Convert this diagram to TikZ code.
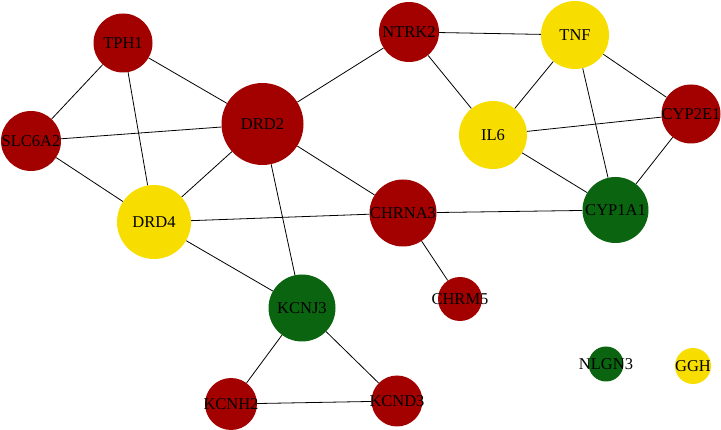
\documentclass[tikz,border=0pt]{standalone}
\usepackage{fontspec}
\setmainfont{Liberation Serif}
\pgfdeclarelayer{background}
\pgfsetlayers{background,main}
\definecolor{gred}{HTML}{A30000}
\definecolor{gyellow}{HTML}{F7DE00}
\definecolor{ggreen}{HTML}{0A6410}
\tikzset{
  genetext/.style={font=\fontsize{16.5}{16.5}\selectfont, text=black, inner sep=0pt},
  gene/.style={circle, inner sep=0pt},
  rednode/.style={gene, fill=gred},
  yelnode/.style={gene, fill=gyellow},
  grnnode/.style={gene, fill=ggreen},
  gname/.style={label={[genetext]center:#1}},
  link/.style={draw=black, line width=0.8pt}
}
\begin{document}
\begin{tikzpicture}[x=1pt, y=-1pt]
\useasboundingbox (0,0) rectangle (721,430);
\node[rednode, minimum size=59pt, gname=TPH1] (TPH1) at (123,43) {};
\node[rednode, minimum size=60pt, gname=SLC6A2] (SLC6A2) at (31,141) {};
\node[rednode, minimum size=82pt, gname=DRD2] (DRD2) at (262.5,124) {};
\node[yelnode, minimum size=74pt, gname=DRD4] (DRD4) at (154,222) {};
\node[rednode, minimum size=60pt, gname=NTRK2] (NTRK2) at (409,32) {};
\node[yelnode, minimum size=68pt, gname=TNF] (TNF) at (575,35) {};
\node[yelnode, minimum size=68pt, gname=IL6] (IL6) at (493,135) {};
\node[rednode, minimum size=59pt, gname=CYP2E1] (CYP2E1) at (691,114) {};
\node[rednode, minimum size=67pt, gname=CHRNA3] (CHRNA3) at (403,213) {};
\node[grnnode, minimum size=66pt, gname=CYP1A1] (CYP1A1) at (615.5,210) {};
\node[grnnode, minimum size=67pt, gname=KCNJ3] (KCNJ3) at (302,308) {};
\node[rednode, minimum size=44pt, gname=CHRM5] (CHRM5) at (460,299) {};
\node[rednode, minimum size=52pt, gname=KCNH2] (KCNH2) at (231,404) {};
\node[rednode, minimum size=51pt, gname=KCND3] (KCND3) at (397,401) {};
\node[grnnode, minimum size=35pt, gname=NLGN3] (NLGN3) at (606,364) {};
\node[yelnode, minimum size=36pt, gname=GGH] (GGH) at (693,366) {};
\begin{pgfonlayer}{background}
\fill[white] (0,0) rectangle (721,430);
\draw[link] (TPH1) -- (SLC6A2);
\draw[link] (TPH1) -- (DRD2);
\draw[link] (TPH1) -- (DRD4);
\draw[link] (SLC6A2) -- (DRD2);
\draw[link] (SLC6A2) -- (DRD4);
\draw[link] (DRD2) -- (DRD4);
\draw[link] (DRD2) -- (NTRK2);
\draw[link] (DRD2) -- (CHRNA3);
\draw[link] (DRD2) -- (KCNJ3);
\draw[link] (DRD4) -- (CHRNA3);
\draw[link] (DRD4) -- (KCNJ3);
\draw[link] (CHRNA3) -- (CYP1A1);
\draw[link] (CHRNA3) -- (CHRM5);
\draw[link] (NTRK2) -- (TNF);
\draw[link] (NTRK2) -- (IL6);
\draw[link] (TNF) -- (IL6);
\draw[link] (TNF) -- (CYP2E1);
\draw[link] (TNF) -- (CYP1A1);
\draw[link] (IL6) -- (CYP2E1);
\draw[link] (IL6) -- (CYP1A1);
\draw[link] (CYP2E1) -- (CYP1A1);
\draw[link] (KCNJ3) -- (KCNH2);
\draw[link] (KCNJ3) -- (KCND3);
\draw[link] (KCNH2) -- (KCND3);
\end{pgfonlayer}
\end{tikzpicture}
\end{document}
